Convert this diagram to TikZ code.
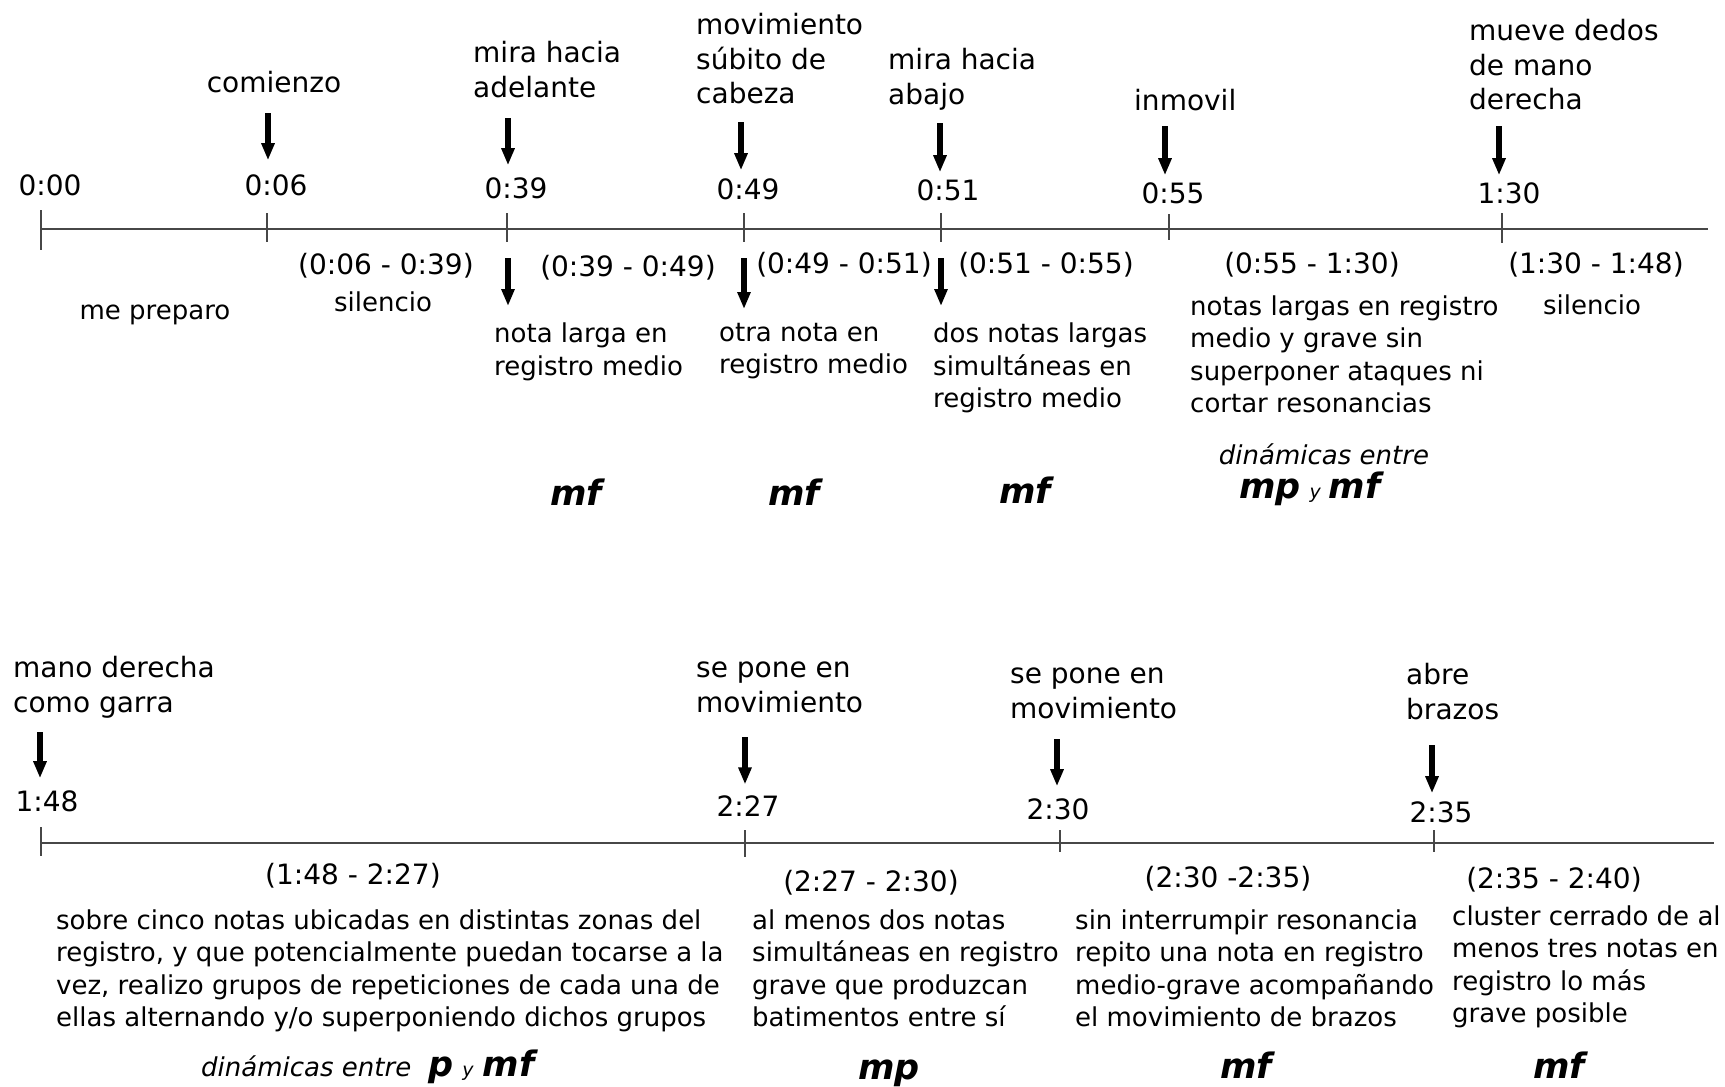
\documentclass[tikz,border=0pt]{standalone}
\usepackage{fontspec}
\setmainfont{DejaVu Sans}
\usepackage{tikz}
\usetikzlibrary{arrows.meta}
\newcommand\dynf{\fontsize{35bp}{40bp}\selectfont\bfseries\itshape}
\newcommand\smally{\fontsize{19bp}{21bp}\selectfont\itshape}

\begin{document}
\begin{tikzpicture}[x=1bp,y=-1bp,
 txt/.style={font=\fontsize{26bp}{32.5bp}\selectfont,inner sep=0pt},
 desc/.style={txt,align=left,anchor=north west},
 evt/.style={font=\fontsize{28bp}{34.5bp}\selectfont,inner sep=0pt,align=left,anchor=north west},
 tm/.style={font=\fontsize{28bp}{34bp}\selectfont,inner sep=0pt},
 dyn/.style={font=\dynf,inner sep=0pt,anchor=base},
 evarrow/.style={line width=5.5bp,-{Triangle[length=17bp,width=12.5bp]}},
 axis/.style={line width=1.8bp,black!72},
 tick/.style={line width=1.4bp,black!72}]
\fill[white](0,0)rectangle(1725,1086);

% primera linea
\coordinate (k000) at (41,229);
\coordinate (k006) at (267,229);
\coordinate (k039) at (507,229);
\coordinate (k049) at (744,229);
\coordinate (k051) at (941,229);
\coordinate (k055) at (1169,229);
\coordinate (k130) at (1502,229);
\coordinate (kfin) at (1708,229);
\draw[axis](k000)--(kfin);
\draw[tick](k000)++(0,-19)--++(0,40);
\draw[tick](k006)++(0,-16)--++(0,29);
\draw[tick](k039)++(0,-16)--++(0,29);
\draw[tick](k049)++(0,-16)--++(0,29);
\draw[tick](k051)++(0,-16)--++(0,29);
\draw[tick](k055)++(0,-15)--++(0,26);
\draw[tick](k130)++(0,-16)--++(0,30);

\node[tm] (l000) at (50,185) {0:00};
\node[tm] (l006) at (276,185) {0:06};
\node[tm] (l039) at (516,188) {0:39};
\node[tm] (l049) at (748,189) {0:49};
\node[tm] (l051) at (948,190) {0:51};
\node[tm] (l055) at (1173,193) {0:55};
\node[tm] (l130) at (1509,193) {1:30};

\node[evt,anchor=base] (e006) at (274,92) {comienzo};
\node[evt] (e039) at (473,41.5) {mira hacia\\adelante};
\node[evt] (e049) at (696,13.5) {movimiento\\súbito de\\cabeza};
\node[evt] (e051) at (888,48.5) {mira hacia\\abajo};
\node[evt,anchor=base west] (e055) at (1134,110) {inmovil};
\node[evt] (e130) at (1469,19.5) {mueve dedos\\de mano\\derecha};

\coordinate (a006) at (268,113);
\coordinate (a039) at (508,118);
\coordinate (a049) at (741,122);
\coordinate (a051) at (940,123);
\coordinate (a055) at (1165,126);
\coordinate (a130) at (1499,126);
\draw[evarrow,shorten >=14bp](a006)--(a006|-l006.north);
\draw[evarrow,shorten >=12bp](a039)--(a039|-l039.north);
\draw[evarrow,shorten >=8bp](a049)--(a049|-l049.north);
\draw[evarrow,shorten >=7bp](a051)--(a051|-l051.north);
\draw[evarrow,shorten >=7bp](a055)--(a055|-l055.north);
\draw[evarrow,shorten >=7bp](a130)--(a130|-l130.north);

\node[tm] (r006) at (386,266) {(0:06 - 0:39)};
\node[tm] (r039) at (628,268) {(0:39 - 0:49)};
\node[tm] (r049) at (844,265) {(0:49 - 0:51)};
\node[tm] (r051) at (1046,265) {(0:51 - 0:55)};
\node[tm] (r055) at (1312,265) {(0:55 - 1:30)};
\node[tm] (r130) at (1596,265) {(1:30 - 1:48)};

\node[txt,anchor=base] (d000) at (155,319.5) {me preparo};
\node[txt,anchor=base] (d006) at (383,311) {silencio};
\node[desc] (d039) at (494,323) {nota larga en\\registro medio};
\node[desc] (d049) at (719,323) {otra nota en\\registro medio};
\node[desc] (d051) at (933,323) {dos notas largas\\simultáneas en\\registro medio};
\node[desc] (d055) at (1190,295.5) {notas largas en registro\\medio y grave sin\\superponer ataques ni\\cortar resonancias};
\node[txt,anchor=base] (d130) at (1592,314) {silencio};

\coordinate (b039) at (508,258);
\coordinate (b049) at (744,258);
\coordinate (b051) at (941,258);
\draw[evarrow,shorten >=17bp](b039)--(b039|-d039.north);
\draw[evarrow,shorten >=14bp](b049)--(b049|-d049.north);
\draw[evarrow,shorten >=17bp](b051)--(b051|-d051.north);

\node[dyn] (m039) at (576,505.5) {mf};
\node[dyn] (m049) at (794,505.5) {mf};
\node[dyn] (m051) at (1025,503) {mf};
\node[txt,anchor=base,font=\fontsize{26bp}{30bp}\selectfont\itshape] (n055) at (1324,464) {dinámicas entre};
\node[inner sep=0pt,anchor=base west] (m055) at (1239,498) {{\dynf mp}\hspace{9bp}{\smally y}\hspace{8bp}{\dynf mf}};

% segunda linea
\coordinate (k148) at (41,843);
\coordinate (k227) at (745,843);
\coordinate (k230) at (1060,843);
\coordinate (k235) at (1434,843);
\coordinate (kfin2) at (1714,843);
\draw[axis](k148)--(kfin2);
\draw[tick](k148)++(0,-16)--++(0,29);
\draw[tick](k227)++(0,-13)--++(0,27);
\draw[tick](k230)++(0,-13)--++(0,22);
\draw[tick](k235)++(0,-13)--++(0,22);

\node[tm] (l148) at (47,801) {1:48};
\node[tm] (l227) at (748,806) {2:27};
\node[tm] (l230) at (1058,809) {2:30};
\node[tm] (l235) at (1441,812) {2:35};

\node[evt] (e148) at (13,656.5) {mano derecha\\como garra};
\node[evt] (e227) at (696,656.5) {\vphantom{l}se pone en\\movimiento};
\node[evt] (e230) at (1010,662.5) {\vphantom{l}se pone en\\movimiento};
\node[evt] (e235) at (1406,663.5) {abre\\brazos};

\coordinate (a148) at (40,732);
\coordinate (a227) at (745,737);
\coordinate (a230) at (1057,739);
\coordinate (a235) at (1432,745);
\draw[evarrow,shorten >=12bp](a148)--(a148|-l148.north);
\draw[evarrow,shorten >=11bp](a227)--(a227|-l227.north);
\draw[evarrow,shorten >=12bp](a230)--(a230|-l230.north);
\draw[evarrow,shorten >=8bp](a235)--(a235|-l235.north);

\node[tm] (r148) at (353,876) {(1:48 - 2:27)};
\node[tm] (r227) at (871,883) {(2:27 - 2:30)};
\node[tm] (r230) at (1228,879) {(2:30 -2:35)};
\node[tm] (r235) at (1554,880) {(2:35 - 2:40)};

\node[desc] (d148) at (56,909.5) {sobre cinco notas ubicadas en distintas zonas del\\registro, y que potencialmente puedan tocarse a la\\vez, realizo grupos de repeticiones de cada una de\\ellas alternando y/o superponiendo dichos grupos};
\node[desc] (d227) at (752,909.5) {al menos dos notas\\simultáneas en registro\\grave que produzcan\\batimentos entre sí};
\node[desc] (d230) at (1075,909.5) {sin interrumpir resonancia\\repito una nota en registro\\medio-grave acompañando\\el movimiento de brazos};
\node[desc] (d235) at (1452,905.5) {cluster cerrado de al\\menos tres notas en\\registro lo más\\grave posible};

\node[inner sep=0pt,anchor=base west] (m148) at (201,1076) {{\fontsize{26bp}{30bp}\selectfont\itshape dinámicas entre}\hspace{17bp}{\dynf p}\hspace{9bp}{\smally y}\hspace{9bp}{\dynf mf}};
\node[dyn] (m227) at (889,1079.5) {mp};
\node[dyn] (m230) at (1246,1078) {mf};
\node[dyn] (m235) at (1559,1078) {mf};
\end{tikzpicture}
\end{document}
